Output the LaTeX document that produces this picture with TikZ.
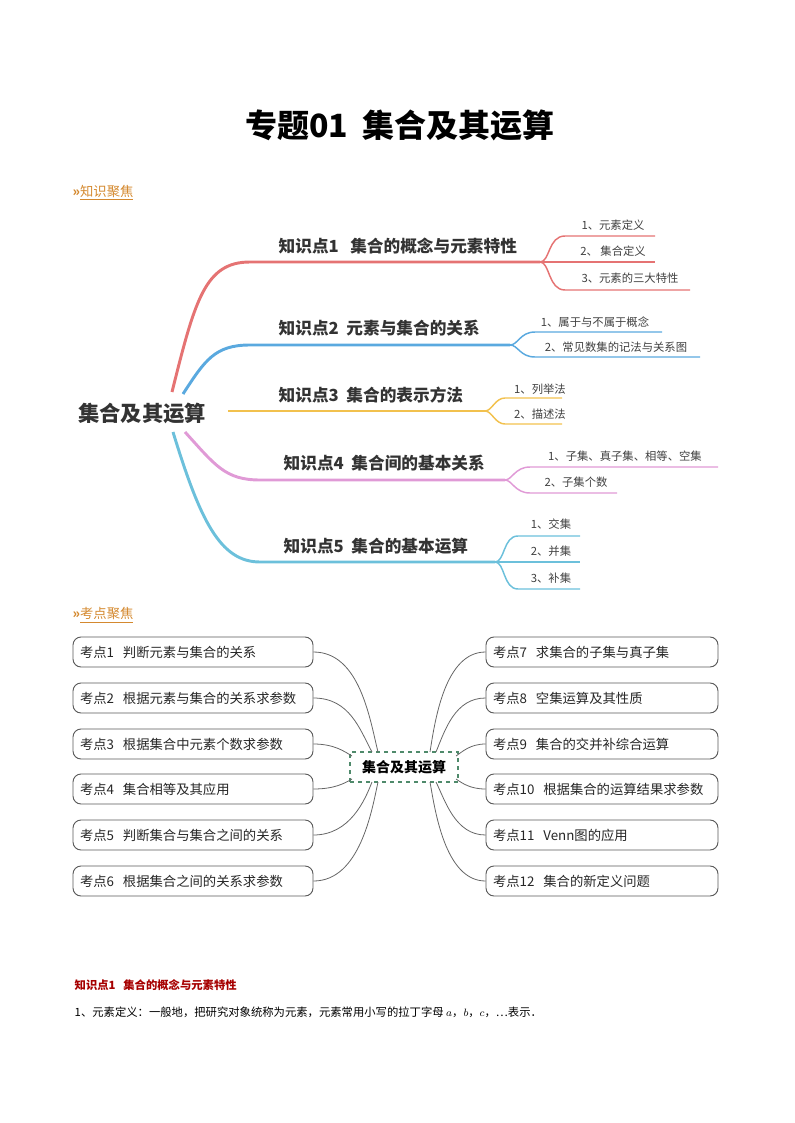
\documentclass[tikz,border=0pt]{standalone}
\usepackage{fontspec}
\setmainfont{Noto Sans CJK SC}
\usepackage{tikz}

\definecolor{redbr}{HTML}{E57373}
\definecolor{bluebr}{HTML}{5AA9DF}
\definecolor{yelbr}{HTML}{F2C14E}
\definecolor{pinkbr}{HTML}{E09AD6}
\definecolor{cyanbr}{HTML}{6CC0DB}
\definecolor{headorg}{HTML}{D4892F}
\definecolor{dashgreen}{HTML}{4F8A6B}

\tikzset{
  topic/.style={anchor=west,font=\fontsize{12.5}{14}\selectfont\bfseries,text=black!80},
  leaf/.style={anchor=center,font=\fontsize{8.5}{10}\selectfont,text=black!75},
  head/.style={anchor=west,font=\fontsize{10}{12}\selectfont,text=headorg},
  kbox/.style={draw=black!65,rounded corners=6pt,minimum width=240*0.75pt,minimum height=30*0.75pt,
    line width=0.7pt,font=\fontsize{10}{11}\selectfont,text=black!85,align=left,text width=226*0.75pt},
  link/.style={draw=black!60,line width=0.6pt}
}

\begin{document}
\begin{tikzpicture}[x=0.75pt,y=-0.75pt]
\useasboundingbox (0,0) rectangle (794,1123);

% title
\node[font=\fontsize{24}{28}\selectfont\bfseries] (title) at (400,125) {专题01\ \ 集合及其运算};

% part one
\node[head] (h1) at (68,193) {\textbf{»}\underline{知识聚焦}};
\node[font=\fontsize{16}{19}\selectfont\bfseries,text=black!80] (root) at (142,413) {集合及其运算};

% branch 1
\draw[redbr,line width=2.2pt] (172,392) .. controls (195,300) and (205,262) .. (250,262) -- (540,262);
\node[topic] (t1) at (274,246) {知识点1\ \ \ 集合的概念与元素特性};
\draw[redbr,line width=1.1pt] (540,262) .. controls (550,262) and (548,236) .. (565,236) -- (655,236);
\draw[redbr,line width=1.1pt] (540,262) -- (655,262);
\draw[redbr,line width=1.1pt] (540,262) .. controls (550,262) and (548,290) .. (565,290) -- (690,290);
\node[leaf] (l11) at (613,225) {1、元素定义};
\node[leaf] (l12) at (613,251) {2、 集合定义};
\node[leaf] (l13) at (630,278) {3、元素的三大特性};

% branch 2
\draw[bluebr,line width=2.2pt] (183,394) .. controls (205,360) and (215,345) .. (250,345) -- (510,345);
\node[topic] (t2) at (274,328) {知识点2\ \ 元素与集合的关系};
\draw[bluebr,line width=1.1pt] (510,345) .. controls (518,345) and (520,332) .. (535,332) -- (662,332);
\draw[bluebr,line width=1.1pt] (510,345) .. controls (518,345) and (520,357) .. (535,357) -- (700,357);
\node[leaf] (l21) at (595,322) {1、属于与不属于概念};
\node[leaf] (l22) at (616,347) {2、常见数集的记法与关系图};

% branch 3
\draw[yelbr,line width=2.2pt] (228,411) -- (485,411);
\node[topic] (t3) at (274,395) {知识点3\ \ 集合的表示方法};
\draw[yelbr,line width=1.1pt] (485,411) .. controls (492,411) and (495,398) .. (505,398) -- (562,398);
\draw[yelbr,line width=1.1pt] (485,411) .. controls (492,411) and (495,424) .. (505,424) -- (562,424);
\node[leaf] (l31) at (540,389) {1、列举法};
\node[leaf] (l32) at (540,414) {2、描述法};

% branch 4
\draw[pinkbr,line width=2.2pt] (185,432) .. controls (215,465) and (225,480) .. (260,480) -- (505,480);
\node[topic] (t4) at (279,463) {知识点4\ \ 集合间的基本关系};
\draw[pinkbr,line width=1.1pt] (505,480) .. controls (512,480) and (515,467) .. (530,467) -- (718,467);
\draw[pinkbr,line width=1.1pt] (505,480) .. controls (512,480) and (515,493) .. (530,493) -- (617,493);
\node[leaf] (l41) at (625,456) {1、子集、真子集、相等、空集};
\node[leaf] (l42) at (576,482) {2、子集个数};

% branch 5
\draw[cyanbr,line width=2.2pt] (173,432) .. controls (200,520) and (220,562) .. (260,562) -- (495,562);
\node[topic] (t5) at (279,546) {知识点5\ \ 集合的基本运算};
\draw[cyanbr,line width=1.1pt] (495,562) .. controls (505,562) and (503,536) .. (518,536) -- (580,536);
\draw[cyanbr,line width=1.1pt] (495,562) -- (580,562);
\draw[cyanbr,line width=1.1pt] (495,562) .. controls (505,562) and (503,589) .. (518,589) -- (580,589);
\node[leaf] (l51) at (551,524) {1、交集};
\node[leaf] (l52) at (551,551) {2、并集};
\node[leaf] (l53) at (551,578) {3、补集};

% part two
\node[head] (h2) at (68,615) {\textbf{»}\underline{考点聚焦}};
\node[draw=dashgreen,dashed,line width=1.1pt,minimum width=108*0.75pt,minimum height=30*0.75pt,
  font=\fontsize{10.5}{12}\selectfont\bfseries] (core) at (404,767) {集合及其运算};

\foreach \i/\y/\txt in {1/652/{考点1\ \ 判断元素与集合的关系},2/698/{考点2\ \ 根据元素与集合的关系求参数},
  3/744/{考点3\ \ 根据集合中元素个数求参数},4/789/{考点4\ \ 集合相等及其应用},
  5/835/{考点5\ \ 判断集合与集合之间的关系},6/881/{考点6\ \ 根据集合之间的关系求参数}}
  \node[kbox] (k\i) at (193,\y) {\txt};
\foreach \i/\y/\txt in {7/652/{考点7\ \ 求集合的子集与真子集},8/698/{考点8\ \ 空集运算及其性质},
  9/744/{考点9\ \ 集合的交并补综合运算},10/789/{考点10\ \ 根据集合的运算结果求参数},
  11/835/{考点11\ \ Venn图的应用},12/881/{考点12\ \ 集合的新定义问题}}
  \node[kbox,minimum width=232*0.75pt,text width=218*0.75pt] (k\i) at (602,\y) {\txt};

\draw[link] (k1.east) .. controls (360,652) and (370,720) .. (378,752);
\draw[link] (k2.east) .. controls (350,698) and (360,730) .. (372,752);
\draw[link] (k3.east) .. controls (335,744) and (345,752) .. (352,756);
\draw[link] (k4.east) .. controls (335,789) and (345,783) .. (352,779);
\draw[link] (k5.east) .. controls (350,835) and (365,800) .. (372,782);
\draw[link] (k6.east) .. controls (360,881) and (372,810) .. (378,782);
\draw[link] (k7.west) .. controls (445,652) and (435,720) .. (430,752);
\draw[link] (k8.west) .. controls (455,698) and (445,730) .. (436,752);
\draw[link] (k9.west) .. controls (470,744) and (462,752) .. (456,756);
\draw[link] (k10.west) .. controls (470,789) and (462,783) .. (456,779);
\draw[link] (k11.west) .. controls (455,835) and (445,800) .. (436,782);
\draw[link] (k12.west) .. controls (445,881) and (435,810) .. (430,782);

% text below
\node[anchor=west,font=\fontsize{8.5}{10}\selectfont\bfseries,text=red!65!black] (sec) at (70,985)
  {知识点1\ \ \ 集合的概念与元素特性};
\node[anchor=west,font=\fontsize{8.5}{10}\selectfont] (line1) at (70,1012)
  {1、元素定义：一般地，把研究对象统称为元素，元素常用小写的拉丁字母 $a$，$b$，$c$，…表示．};
\end{tikzpicture}
\end{document}
